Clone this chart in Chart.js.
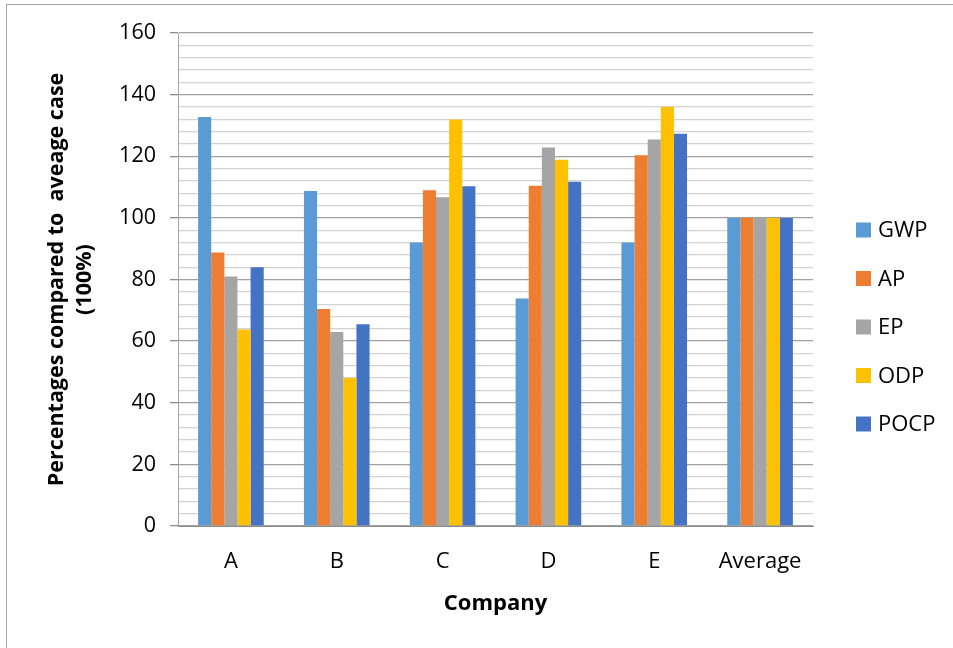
<!DOCTYPE html>
<html>
<head>
<meta charset="utf-8">
<script src="https://cdn.jsdelivr.net/npm/chart.js@4"></script>
<style>
  html, body { margin: 0; padding: 0; background: #fff; overflow: hidden; }
  #wrap { position: relative; width: 953px; height: 648px; }
  #frame { position: absolute; left: 6px; top: 4px; width: 960px; height: 660px; border: 1px solid #a6a6a6; pointer-events: none; }
</style>
</head>
<body>
<div id="wrap">
  <canvas id="c" width="953" height="648"></canvas>
  <div id="frame"></div>
</div>
<script>
const categories = ['A', 'B', 'C', 'D', 'E', 'Average'];
const seriesNames = ['GWP', 'AP', 'EP', 'ODP', 'POCP'];
const gwp  = [132.7, 108.7, 92.0, 73.8, 92.0, 100];
const ap   = [88.8, 70.4, 109.0, 110.4, 120.3, 100];
const ep   = [81.0, 63.0, 106.7, 122.8, 125.4, 100];
const odp  = [63.8, 48.0, 131.9, 118.9, 136.0, 100];
const pocp = [84.0, 65.5, 110.3, 111.7, 127.3, 100];
const colors = ['#5B9BD5', '#ED7D31', '#A5A5A5', '#FFC000', '#4472C4'];
const yTitle = ['Percentages compared to  aveage case', '(100%)'];
const xTitle = 'Company';

const seriesValues = [gwp, ap, ep, odp, pocp];

const legendPlugin = {
  id: 'sideLegend',
  afterDraw(chart) {
    const ctx = chart.ctx;
    ctx.save();
    ctx.font = '22px "Open Sans"';
    ctx.textBaseline = 'middle';
    ctx.textAlign = 'left';
    chart.data.datasets.forEach((ds, i) => {
      const cy = 230 + i * 48.5;
      ctx.fillStyle = ds.backgroundColor;
      ctx.fillRect(856, cy - 7.5, 15, 15);
      ctx.fillStyle = '#000';
      ctx.fillText(ds.label, 878, cy + 1);
    });
    ctx.restore();
  }
};

new Chart(document.getElementById('c'), {
  type: 'bar',
  data: {
    labels: categories,
    datasets: seriesNames.map((n, i) => ({
      label: n,
      data: seriesValues[i],
      backgroundColor: colors[i],
      borderWidth: 0,
      categoryPercentage: 0.62,
      barPercentage: 1.0
    }))
  },
  options: {
    responsive: false,
    animation: false,
    layout: { padding: { left: 0, right: 140, top: 33, bottom: 0 } },
    plugins: {
      legend: { display: false },
      tooltip: { enabled: false }
    },
    scales: {
      x: {
        grid: { display: false },
        border: { display: true, color: '#8c8c8c', width: 1 },
        ticks: { color: '#000', font: { family: 'Open Sans', size: 22 }, padding: 15, maxRotation: 0, autoSkip: false },
        title: { display: true, text: xTitle, color: '#000', font: { family: 'Open Sans', size: 22, weight: 'bold' }, padding: { top: 0, bottom: 31 } },
        afterFit: (s) => { s.height = 122; }
      },
      y: {
        min: 0, max: 160,
        grid: {
          color: (c) => (c.tick && c.tick.value % 20 === 0) ? '#a0a0a0' : '#d3d3d3',
          tickColor: (c) => (c.tick && c.tick.value % 20 === 0) ? '#8c8c8c' : 'rgba(0,0,0,0)',
          tickLength: 8,
          lineWidth: 1.3
        },
        border: { display: true, color: '#a6a6a6', width: 1 },
        ticks: {
          stepSize: 4,
          autoSkip: false,
          padding: 14,
          color: '#000',
          font: { family: 'Open Sans', size: 21.5 },
          callback: (v) => (v % 20 === 0 ? String(v) : '')
        },
        title: { display: true, text: yTitle, color: '#000', font: { family: 'Open Sans', size: 21.5, weight: 'bold', lineHeight: 1.3 }, padding: { top: 43, bottom: 0 } },
        afterFit: (s) => { s.width = 178; }
      }
    }
  },
  plugins: [legendPlugin]
});
</script>
</body>
</html>
